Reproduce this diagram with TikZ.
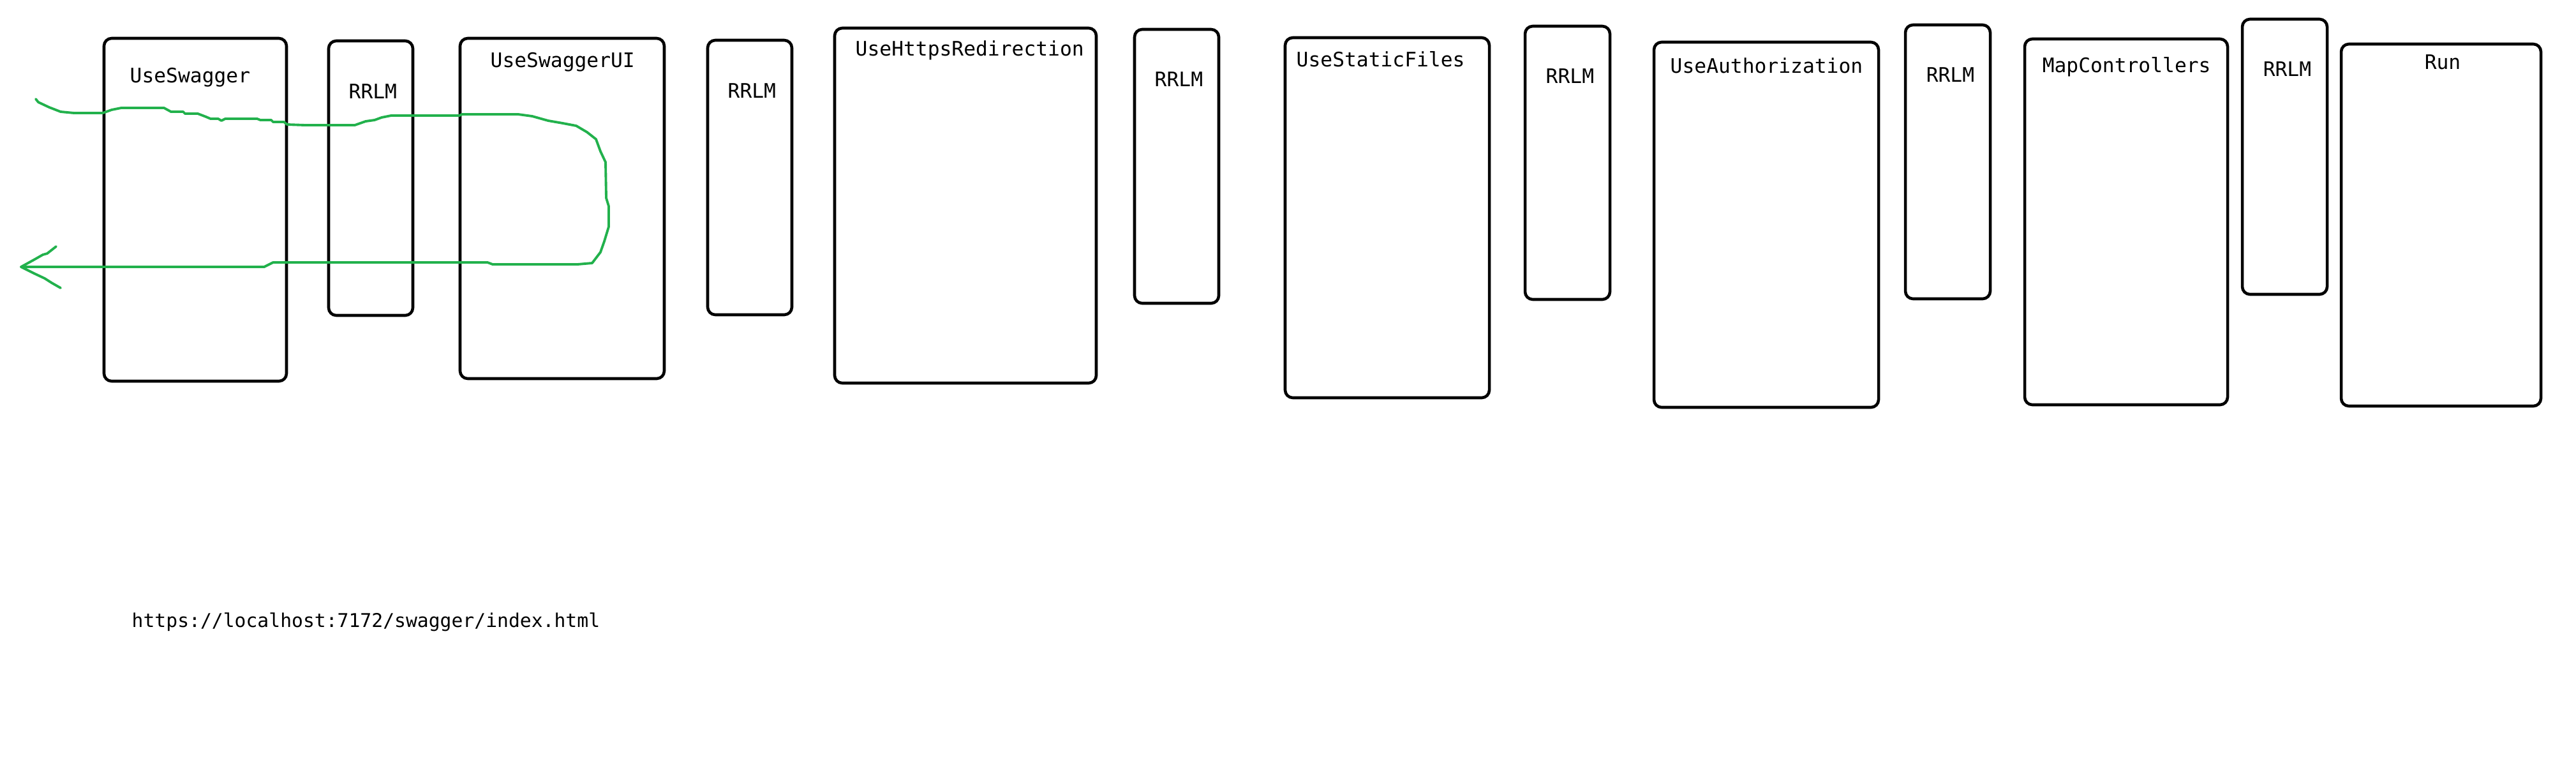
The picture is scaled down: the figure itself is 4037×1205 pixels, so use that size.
\documentclass[tikz,border=0pt]{standalone}
\usepackage{fontspec}
\setmonofont{DejaVu Sans Mono}
\usepackage{tikz}
\usetikzlibrary{fit}
\definecolor{paintgreen}{RGB}{34,177,76}

\begin{document}
\begin{tikzpicture}[x=0.01cm,y=-0.01cm,
	mw/.style={draw,line width=1.3pt,rounded corners=0.12cm,inner sep=0pt},
	lbl/.style={inner sep=0pt,anchor=base west,font=\ttfamily\fontsize{8.9pt}{10pt}\selectfont},
	flow/.style={paintgreen,line width=1.1pt,line join=round,line cap=round},
	]
	\useasboundingbox (0,0) rectangle (4037,1205);
	
	\node[mw,fit={(163,60) (449,597)}] (useswagger) {};
	\node[mw,fit={(515,64) (647,494)}] (rrlma) {};
	\node[mw,fit={(721,60) (1041,593)}] (useswaggerui) {};
	\node[mw,fit={(1109,63) (1241,493)}] (rrlmb) {};
	\node[mw,fit={(1308,44) (1718,600)}] (usehttps) {};
	\node[mw,fit={(1778,46) (1910,475)}] (rrlmc) {};
	\node[mw,fit={(2014,59) (2334,623)}] (usestatic) {};
	\node[mw,fit={(2390,41) (2523,469)}] (rrlmd) {};
	\node[mw,fit={(2592,66) (2944,638)}] (useauth) {};
	\node[mw,fit={(2986,39) (3119,468)}] (rrlme) {};
	\node[mw,fit={(3173,61) (3491,634)}] (mapctrl) {};
	\node[mw,fit={(3514,30) (3647,461)}] (rrlmf) {};
	\node[mw,fit={(3669,69) (3982,636)}] (run) {};
	
	\node[lbl] (useswaggerlbl) at (203,129) {UseSwagger};
	\node[lbl] (rrlmalbl) at (546,154) {RRLM};
	\node[lbl] (useswaggeruilbl) at (768,105) {UseSwaggerUI};
	\node[lbl] (rrlmblbl) at (1140,153) {RRLM};
	\node[lbl] (usehttpslbl) at (1340,87) {UseHttpsRedirection};
	\node[lbl] (rrlmclbl) at (1809,135) {RRLM};
	\node[lbl] (usestaticlbl) at (2031,104) {UseStaticFiles};
	\node[lbl] (rrlmdlbl) at (2422,130) {RRLM};
	\node[lbl] (useauthlbl) at (2617,114) {UseAuthorization};
	\node[lbl] (rrlmelbl) at (3018,128) {RRLM};
	\node[lbl] (mapctrllbl) at (3200,113) {MapControllers};
	\node[lbl] (rrlmflbl) at (3546,119) {RRLM};
	\node[lbl] (runlbl) at (3799,108) {Run};
	
	\node[lbl,font=\ttfamily\fontsize{8.45pt}{10pt}\selectfont] (url) at (206,982) {https://localhost:7172/swagger/index.html};
	
	% request goes in, turns back in UseSwaggerUI
	\coordinate (entry) at (56,155);
	\coordinate (tip) at (33,418);
	\draw[flow] (entry) -- (60,160) -- (77,168) -- (95,175) -- (116,177) -- (161,177) -- (175,172) -- (190,169) -- (257,169) -- (268,175) -- (287,175) -- (290,178) -- (310,178) -- (323,183) -- (330,186) -- (342,186) -- (347,189) -- (353,186) -- (403,186) -- (408,188) -- (425,188) -- (428,191) -- (445,191) -- (450,195) -- (478,196) -- (556,196) -- (573,190) -- (587,188) -- (598,184) -- (613,181) -- (720,181) -- (724,179) -- (812,179) -- (834,182) -- (859,189) -- (882,193) -- (903,197) -- (920,207) -- (934,218) -- (941,237) -- (949,254) -- (950,310) -- (954,323) -- (954,355) -- (947,378) -- (941,395) -- (928,412) -- (905,414) -- (772,414) -- (764,411) -- (428,411) -- (414,418) -- (tip);
	\draw[flow] (tip) -- (53,407) -- (67,399) -- (74,397) -- (88,386);
	\draw[flow] (tip) -- (53,428) -- (70,436) -- (81,443) -- (95,451);
\end{tikzpicture}
\end{document}
